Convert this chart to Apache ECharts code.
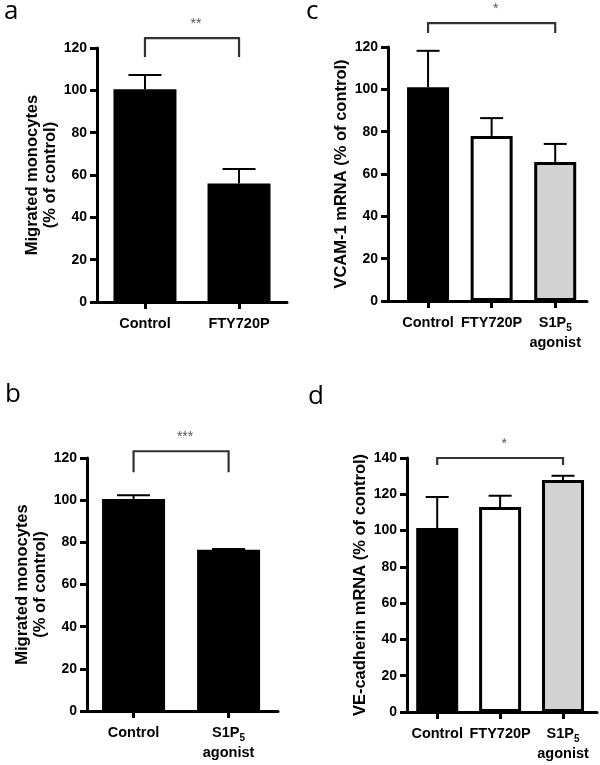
<!DOCTYPE html>
<html><head><meta charset="utf-8">
<script src="https://cdn.jsdelivr.net/npm/echarts@6/dist/echarts.min.js"></script>
<style>html,body{margin:0;padding:0;background:#fff}#c{width:600px;height:765px}</style>
</head><body><div id="c"></div>
<script>
// ---- data ----
const catA = ['Control', 'FTY720P'];
const meanA = [100.5, 56.0];
const upperA = [107.2, 62.8];
const sigA = [0, 1, 124.7, 115.7, '**'];

const catB = ['Control', 'S1P5 agonist'];
const meanB = [100.5, 76.5];
const upperB = [102.3, 76.8];
const sigB = [0, 1, 123.2, 113.3, '***'];

const catC = ['Control', 'FTY720P', 'S1P5 agonist'];
const meanC = [101.0, 78.0, 65.7];
const upperC = [118.2, 86.4, 74.2];
const sigC = [0, 2, 131.3, 126.6, '*'];

const catD = ['Control', 'FTY720P', 'S1P5 agonist'];
const meanD = [101.4, 113.0, 127.9];
const upperD = [118.5, 119.2, 130.2];
const sigD = [0, 2, 140.0, 136.2, '*'];

const yTicksABC = [0, 20, 40, 60, 80, 100, 120];
const yTicksD = [0, 20, 40, 60, 80, 100, 120, 140];

const FONT = '"Liberation Sans", Arial, sans-serif';
const fillColors = ['#000000', '#ffffff', '#d3d3d3'];

function fmtCat(cats) {
  return function (v) {
    const i = Math.round(v);
    const c = cats[i];
    if (c === undefined) return '';
    if (c.indexOf('S1P5') === 0) return '{n|S1P}{s|5}\n{n|agonist}';
    return '{n|' + c + '}';
  };
}

const richLab = {
  n: { fontFamily: FONT, fontWeight: 'bold', fontSize: 14.5, color: '#000', lineHeight: 20 },
  s: { fontFamily: FONT, fontWeight: 'bold', fontSize: 10, color: '#000', lineHeight: 10, verticalAlign: 'bottom' }
};

const panels = [
  { cats: catA, mean: meanA, upper: upperA, sig: sigA, ticks: yTicksABC, allBlack: true,
    grid: { left: 97, top: 48, width: 190, height: 254 }, xmin: -0.51, xmax: 1.51,
    name: 'Migrated monocytes\n(% of control)', nameGap: 38, barW: 63, cap: 16.5 },
  { cats: catB, mean: meanB, upper: upperB, sig: sigB, ticks: yTicksABC, allBlack: true,
    grid: { left: 87, top: 458, width: 191, height: 253 }, xmin: -0.49, xmax: 1.52,
    name: 'Migrated monocytes\n(% of control)', nameGap: 33, barW: 63, cap: 16.5 },
  { cats: catC, mean: meanC, upper: upperC, sig: sigC, ticks: yTicksABC, allBlack: false,
    grid: { left: 388, top: 47, width: 199, height: 254 }, xmin: -0.63, xmax: 2.50,
    name: 'VCAM-1 mRNA (% of control)', nameGap: 31, barW: 42, cap: 11.5 },
  { cats: catD, mean: meanD, upper: upperD, sig: sigD, ticks: yTicksD, allBlack: false,
    grid: { left: 407, top: 458, width: 190, height: 254 }, xmin: -0.48, xmax: 2.54,
    name: 'VE-cadherin mRNA (% of control)', nameGap: 34, barW: 42, cap: 11.5 }
];

const grids = [], xAxes = [], yAxes = [], series = [];
panels.forEach(function (p, k) {
  grids.push(p.grid);
  const idx = p.cats.map(function (_, i) { return i; });
  xAxes.push({
    gridIndex: k, type: 'value', min: p.xmin, max: p.xmax,
    splitLine: { show: false },
    axisLine: { show: true, onZero: false, lineStyle: { color: '#000', width: 3 } },
    axisTick: { show: true, customValues: idx, length: 7, lineStyle: { color: '#000', width: 3 } },
    axisLabel: { show: true, customValues: idx, formatter: fmtCat(p.cats), margin: 12, rich: richLab }
  });
  const ymax = p.ticks[p.ticks.length - 1];
  yAxes.push({
    gridIndex: k, type: 'value', min: 0, max: ymax, interval: 20,
    splitLine: { show: false },
    axisLine: { show: true, onZero: false, lineStyle: { color: '#000', width: 3 } },
    axisTick: { show: true, length: 7, lineStyle: { color: '#000', width: 3 } },
    axisLabel: { fontFamily: FONT, fontWeight: 'bold', fontSize: 14, color: '#000', margin: 10 },
    name: p.name, nameLocation: 'middle', nameGap: p.nameGap,
    nameTextStyle: { fontFamily: FONT, fontWeight: 'bold', fontSize: 16.5, color: '#000', lineHeight: 18 }
  });
  series.push({
    type: 'bar', xAxisIndex: k, yAxisIndex: k, barWidth: p.barW, silent: true,
    data: p.mean.map(function (v, i) {
      return { value: [i, v], itemStyle: { color: p.allBlack ? '#000' : fillColors[i], borderColor: '#000', borderWidth: 3 } };
    }),
    z: 2
  });
  series.push({
    type: 'custom', xAxisIndex: k, yAxisIndex: k, silent: true, z: 3,
    data: p.mean.map(function (v, i) { return [i, v, p.upper[i]]; }),
    renderItem: function (params, api) {
      const a = api.coord([api.value(0), api.value(1)]);
      const b = api.coord([api.value(0), api.value(2)]);
      const st = { stroke: '#000', lineWidth: 2 };
      return { type: 'group', children: [
        { type: 'line', shape: { x1: a[0], y1: a[1], x2: b[0], y2: b[1] }, style: st },
        { type: 'line', shape: { x1: b[0] - p.cap, y1: b[1], x2: b[0] + p.cap, y2: b[1] }, style: st }
      ] };
    }
  });
  series.push({
    type: 'custom', xAxisIndex: k, yAxisIndex: k, silent: true, z: 3, clip: false,
    data: [p.sig.slice(0, 4)],
    renderItem: function (params, api) {
      const l = api.coord([api.value(0), api.value(2)]);
      const r = api.coord([api.value(1), api.value(2)]);
      const lb = api.coord([api.value(0), api.value(3)]);
      const rb = api.coord([api.value(1), api.value(3)]);
      return { type: 'group', children: [
        { type: 'polyline', shape: { points: [[lb[0], lb[1]], [l[0], l[1]], [r[0], r[1]], [rb[0], rb[1]]] },
          style: { stroke: '#333', lineWidth: 2.2, fill: null } },
        { type: 'text', x: (l[0] + r[0]) / 2 + 4, y: l[1] - 7,
          style: { text: p.sig[4], fill: '#555', font: '14px ' + FONT, align: 'center', verticalAlign: 'bottom' } }
      ] };
    }
  });
});

const letterStyle = { fontFamily: '"Open Sans", sans-serif', fontWeight: 'normal', fontSize: 26, color: '#000' };
const titles = [
  { text: 'a', left: 4, top: -1, textStyle: letterStyle, padding: 0 },
  { text: 'b', left: 5, top: 382, textStyle: letterStyle, padding: 0 },
  { text: 'c', left: 306, top: -1, textStyle: letterStyle, padding: 0 },
  { text: 'd', left: 308, top: 384, textStyle: letterStyle, padding: 0 }
];

const chart = echarts.init(document.getElementById('c'), null, { renderer: 'canvas' });
chart.setOption({
  animation: false,
  backgroundColor: '#fff',
  title: titles,
  grid: grids, xAxis: xAxes, yAxis: yAxes, series: series
});
</script></body></html>
